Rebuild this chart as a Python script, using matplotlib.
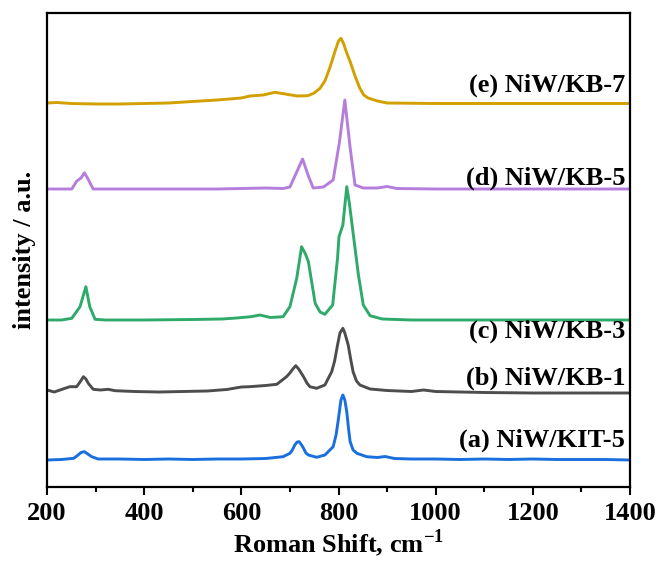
import matplotlib
matplotlib.use("Agg")
import matplotlib.pyplot as plt
from matplotlib.ticker import MultipleLocator

plt.rcParams['font.family'] = ['Liberation Serif', 'DejaVu Serif']
plt.rcParams['font.weight'] = 'bold'
plt.rcParams['mathtext.fontset'] = 'custom'
plt.rcParams['mathtext.rm'] = 'Liberation Serif:bold'
plt.rcParams['mathtext.bf'] = 'Liberation Serif:bold'

# Raman spectra: (shift, intensity above baseline)
a_pts = [(200, 0), (230, 0.5), (255, 1.7), (264, 5), (270, 7.5), (277, 8.3), (284, 6),
         (292, 3.3), (305, 1), (350, 1), (400, 0.5), (450, 1), (500, 0.5), (550, 1),
         (600, 1), (650, 1.5), (686, 3.3), (700, 6.7), (705, 10), (710, 15), (715, 18),
         (719, 18.3), (724, 15), (728, 11.7), (733, 7), (738, 5), (755, 2.7), (772, 5),
         (789, 13.3), (795, 25), (800, 41.7), (805, 60), (809, 65), (813, 60), (817, 48.3),
         (821, 30), (824, 18.3), (830, 10), (838, 6.7), (858, 3.3), (880, 2.5), (896, 3.5),
         (915, 1.5), (950, 1), (1000, 1), (1050, 0.5), (1100, 1), (1150, 0.5), (1200, 1),
         (1250, 0.5), (1300, 0.5), (1350, 0.5), (1400, 0)]
b_pts = [(200, 1), (215, -1), (237, 2.7), (247, 4.3), (261, 4.3), (268, 9), (275, 14.3),
         (280, 12), (285, 7.7), (295, 1.7), (310, 1), (326, 1.7), (340, 0.3), (380, -0.5),
         (430, -1), (480, -0.5), (530, 0), (570, 1.5), (600, 4), (617, 4.3), (650, 5.5),
         (673, 6.7), (693, 14.3), (700, 18), (706, 22), (712, 25.3), (718, 22), (728, 14.3),
         (735, 8), (741, 4.3), (755, 2.7), (772, 6), (786, 19.3), (792, 30), (798, 46),
         (803, 58), (809, 62.7), (813, 58), (820, 46), (825, 32), (830, 19.3), (837, 10),
         (844, 6), (865, 2), (900, 0.5), (950, -0.5), (975, 1), (1000, -0.5), (1050, -1),
         (1100, -1.5), (1200, -2), (1300, -2), (1400, -2)]
c_pts = [(200, 0), (230, 0), (251, 1.7), (268, 13.3), (280, 33.3), (288, 13.3), (299, 0.7),
         (320, 0), (400, 0), (500, 0.5), (560, 1), (590, 2), (620, 3.3), (638, 5), (660, 2.5),
         (686, 3.3), (700, 13.3), (714, 41.7), (724, 73.3), (732, 66), (738, 58.3),
         (752, 16.7), (762, 8), (772, 5.7), (788, 15), (798, 61.7), (801, 83.3), (809, 95),
         (817, 133.3), (822, 118), (828, 95), (841, 45), (851, 15), (865, 4.3), (890, 1),
         (950, 0), (1100, 0), (1250, 0), (1400, 0)]
d_pts = [(200, 0), (251, 0), (261, 7.8), (270, 11), (277, 16.2), (285, 9.5), (295, 0),
         (350, 0), (450, 0), (550, 0), (600, 0.5), (650, 1), (686, 0.5), (700, 2), (714, 17),
         (726, 30), (738, 13), (748, 1), (769, 2), (789, 9), (802, 47), (813, 89), (824, 41),
         (834, 4), (851, 1), (880, 1), (900, 2.5), (920, 0.5), (1000, 0), (1100, 0),
         (1200, 0), (1300, 0), (1400, 0)]
e_pts = [(200, 0), (220, 0.5), (250, -0.5), (300, -1), (350, -1), (400, -0.5), (450, 0),
         (500, 1.5), (550, 3), (600, 5), (618, 7), (645, 8), (669, 10.7), (694, 8.7),
         (715, 7), (737, 7.3), (750, 10), (762, 14.7), (772, 22), (782, 35), (793, 52),
         (800, 62), (805, 64.7), (810, 60), (817, 50), (824, 41.3), (834, 27), (844, 14.7),
         (852, 8), (861, 5), (880, 2), (900, 0), (1000, -0.5), (1100, -0.5), (1200, -0.5),
         (1300, -0.5), (1400, -0.5)]

spectra = [a_pts, b_pts, c_pts, d_pts, e_pts]
offsets = [27, 96, 167, 298, 384]
labels = ['(a) NiW/KIT-5', '(b) NiW/KB-1', '(c) NiW/KB-3', '(d) NiW/KB-5', '(e) NiW/KB-7']
label_y = [47, 109, 156, 309, 402]
colors = ['#1a6fdf', '#4d4d4d', '#2eaa6a', '#b57edc', '#d2a000']

fig = plt.figure(figsize=(6.59, 5.61), dpi=100)
ax = fig.add_axes([47 / 659, 1 - 487 / 561, 583 / 659, 474 / 561])

for pts, off, col, lab, ly in zip(spectra, offsets, colors, labels, label_y):
    xs = [p[0] for p in pts]
    ys = [p[1] + off for p in pts]
    ax.plot(xs, ys, color=col, lw=2.1, solid_joinstyle='round')
    ax.text(1390, ly, lab, ha='right', va='center', fontsize=19, fontweight='bold')

ax.set_xlim(200, 1400)
ax.set_ylim(0, 474)
ax.xaxis.set_major_locator(MultipleLocator(200))
ax.xaxis.set_minor_locator(MultipleLocator(100))
ax.set_yticks([])
ax.tick_params(axis='x', which='major', direction='out', length=6, width=1.5,
               labelsize=19, pad=5)
ax.tick_params(axis='x', which='minor', direction='out', length=3.5, width=1.5)
for s in ax.spines.values():
    s.set_linewidth(1.6)

ax.set_xlabel(r'Roman Shift, cm$^{\mathbf{-1}}$', fontsize=19, fontweight='bold', labelpad=1)
ax.set_ylabel('intensity / a.u.', fontsize=19, fontweight='bold')
ax.yaxis.set_label_coords(-0.019, 0.5)

fig.savefig('out.png', dpi=100)
